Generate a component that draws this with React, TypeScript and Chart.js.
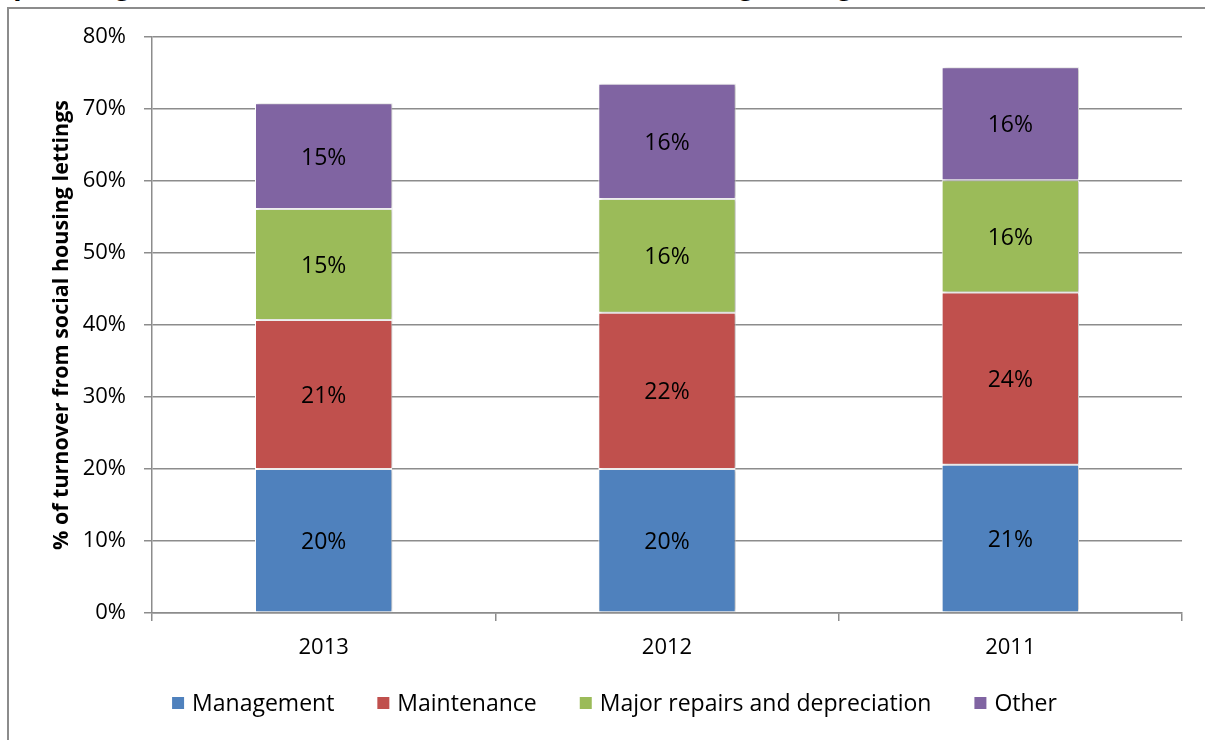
import { useEffect, useRef } from 'react';
import { Chart, registerables } from 'chart.js';

Chart.register(...registerables);

const FONT = '"Open Sans", "DejaVu Sans", sans-serif';

// Operating cost components, % of turnover from social housing lettings
const categories = ['2013', '2012', '2011'];
const management = [20.0, 20.0, 20.6];
const maintenance = [20.7, 21.7, 23.9];
const majorRepairs = [15.4, 15.8, 15.6];
const other = [14.7, 16.0, 15.7];

const seriesNames = ['Management', 'Maintenance', 'Major repairs and depreciation', 'Other'];
const seriesColors = ['#4F81BD', '#C0504D', '#9BBB59', '#8064A2'];
const seriesValues = [management, maintenance, majorRepairs, other];

const yMax = 80;
const yStep = 10;

const AXIS_GREY = '#8c8c8c';

// Soft drop shadow behind the stacked bars
const barShadow = {
  id: 'barShadow',
  beforeDatasetsDraw(chart: any) {
    const ctx = chart.ctx;
    ctx.save();
    ctx.shadowColor = 'rgba(0,0,0,0.28)';
    ctx.shadowBlur = 3;
    ctx.shadowOffsetX = 2;
    ctx.shadowOffsetY = 0;
  },
  afterDatasetsDraw(chart: any) {
    chart.ctx.restore();
  },
};

// Value label in the middle of each segment
const segmentLabels = {
  id: 'segmentLabels',
  afterDraw(chart: any) {
    const ctx = chart.ctx;
    ctx.save();
    ctx.font = `23px ${FONT}`;
    ctx.fillStyle = '#000';
    ctx.textAlign = 'center';
    ctx.textBaseline = 'middle';
    chart.data.datasets.forEach((ds: any, i: number) => {
      const meta = chart.getDatasetMeta(i);
      meta.data.forEach((bar: any, j: number) => {
        const v = ds.data[j] as number;
        const { x, y, base } = bar.getProps(['x', 'y', 'base'], true);
        ctx.fillText(`${Math.round(v)}%`, x, (y + base) / 2 + 2);
      });
    });
    ctx.restore();
  },
};

// Single-row legend under the axis, square swatches with wide gaps between entries
const bottomLegend = {
  id: 'bottomLegend',
  afterDraw(chart: any) {
    const ctx = chart.ctx;
    const box = 12;
    const textGap = 8;
    const itemGap = 43;
    ctx.save();
    ctx.font = `23px ${FONT}`;
    ctx.textBaseline = 'middle';
    ctx.textAlign = 'left';
    const items = chart.data.datasets.map((ds: any) => ({
      label: ds.label as string,
      color: ds.backgroundColor as string,
      w: ctx.measureText(ds.label).width,
    }));
    const total =
      items.reduce((a: number, it: any) => a + box + textGap + it.w, 0) + itemGap * (items.length - 1);
    const cx = chart.width / 2 + 12;
    const cy = chart.chartArea.bottom + 90;
    let x = cx - total / 2;
    items.forEach((it: any) => {
      ctx.fillStyle = it.color;
      ctx.fillRect(x, cy - box / 2, box, box);
      ctx.fillStyle = '#000';
      ctx.fillText(it.label, x + box + textGap, cy + 1);
      x += box + textGap + it.w + itemGap;
    });
    ctx.restore();
  },
};

export default function App() {
  const canvasRef = useRef<HTMLCanvasElement>(null);

  useEffect(() => {
    if (!canvasRef.current) return;
    const chart = new Chart(canvasRef.current, {
      type: 'bar',
      data: {
        labels: categories,
        datasets: seriesNames.map((name, i) => ({
          label: name,
          data: seriesValues[i],
          backgroundColor: seriesColors[i],
          borderColor: '#ffffff',
          borderWidth: 1,
          borderSkipped: false,
          barPercentage: 0.4,
          categoryPercentage: 1,
        })),
      },
      options: {
        responsive: false,
        animation: false,
        devicePixelRatio: 1,
        layout: { padding: { left: 46, right: 23, top: 37, bottom: 67 } },
        scales: {
          x: {
            stacked: true,
            grid: {
              display: true,
              drawOnChartArea: false,
              drawTicks: true,
              tickLength: 8,
              color: AXIS_GREY,
              lineWidth: 1.5,
              offset: true,
            },
            border: { display: true, color: AXIS_GREY, width: 1.5 },
            ticks: { color: '#000', font: { family: FONT, size: 22 }, padding: 14 },
            afterFit: (scale: any) => {
              scale.height = 60;
            },
          },
          y: {
            stacked: true,
            min: 0,
            max: yMax,
            ticks: {
              stepSize: yStep,
              color: '#000',
              font: { family: FONT, size: 22 },
              padding: 18,
              callback: (v: any) => `${v}%`,
            },
            grid: { color: AXIS_GREY, lineWidth: 1.5, tickLength: 8, drawTicks: true },
            border: { display: true, color: AXIS_GREY, width: 1.5 },
            title: {
              display: true,
              text: '% of turnover from social housing lettings',
              color: '#000',
              font: { family: FONT, size: 21.5, weight: 'bold' },
              padding: { top: 3, bottom: 0 },
            },
            afterFit: (scale: any) => {
              scale.width = 106;
            },
          },
        },
        plugins: {
          legend: { display: false },
          tooltip: { enabled: false },
        },
      } as any,
      plugins: [barShadow, segmentLabels, bottomLegend],
    });
    return () => chart.destroy();
  }, []);

  return (
    <div
      style={{
        position: 'fixed',
        left: 0,
        top: 0,
        width: 1205,
        height: 740,
        overflow: 'hidden',
        background: '#fff',
      }}
    >
      <div
        style={{
          position: 'absolute',
          left: -10,
          top: -27,
          font: 'bold 30px "Liberation Sans", Arial, sans-serif',
          lineHeight: '24px',
          whiteSpace: 'nowrap',
          color: '#000',
        }}
      >
        Operating costs as % of turnover from social housing lettings
      </div>
      <div
        style={{
          position: 'absolute',
          left: 7,
          top: 7,
          width: 1400,
          height: 900,
          border: `2px solid ${AXIS_GREY}`,
        }}
      />
      <canvas
        ref={canvasRef}
        width={1205}
        height={740}
        style={{ position: 'absolute', left: 0, top: 0 }}
      />
    </div>
  );
}
